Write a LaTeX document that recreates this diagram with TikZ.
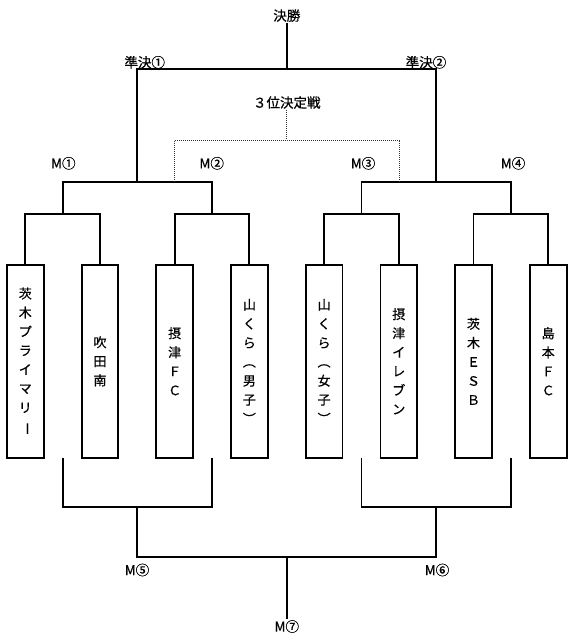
\documentclass[tikz,border=0pt]{standalone}
\usepackage{fontspec}
\setmainfont{Noto Sans CJK JP}[FakeBold=0.6]
\usepackage{graphicx}
\newcommand{\vchoon}{\rotatebox[origin=c]{-90}{ー}}
\begin{document}
\begin{tikzpicture}[x=1pt,y=-1pt,
  conn/.style={line width=1.9pt, line join=miter},
  team/.style={draw, line width=1.9pt, minimum width=36.7pt, minimum height=192.7pt,
    inner sep=0pt, align=center, font=\fontsize{13}{19}\selectfont},
  lbl/.style={font=\fontsize{13.5}{16}\selectfont, inner sep=1pt},
  dotline/.style={line width=1pt, dash pattern=on 1pt off 1pt, black!80}]
\path[fill=white] (0,0) rectangle (573,640);
% teams
\node[team] (t1) at (25.3,361.3) {茨\\木\\プ\\ラ\\イ\\マ\\リ\\\vchoon};
\node[team] (t2) at (100.0,361.3) {吹\\田\\南};
\node[team] (t3) at (174.7,361.3) {摂\\津\\Ｆ\\Ｃ};
\node[team] (t4) at (249.4,361.3) {山\\く\\ら\\︵\\男\\子\\︶};
\node[team] (t5) at (324.1,361.3) {山\\く\\ら\\︵\\女\\子\\︶};
\node[team] (t6) at (398.8,361.3) {摂\\津\\イ\\レ\\ブ\\ン};
\node[team] (t7) at (473.5,361.3) {茨\\木\\Ｅ\\Ｓ\\Ｂ};
\node[team] (t8) at (548.2,361.3) {島\\本\\Ｆ\\Ｃ};
% junctions (top)
\coordinate (m1) at (62.7,214.3);
\coordinate (m2) at (212.0,214.3);
\coordinate (m3) at (361.5,214.3);
\coordinate (m4) at (511.0,214.3);
\coordinate (s1) at (137.3,181.7);
\coordinate (s2) at (436.3,181.7);
\coordinate (f) at (286.8,69.3);
\draw[conn] (t1.north) |- (m1) -| (t2.north);
\draw[conn] (t3.north) |- (m2) -| (t4.north);
\draw[conn] (t5.north) |- (m3) -| (t6.north);
\draw[conn] (t7.north) |- (m4) -| (t8.north);
\draw[conn] (m1) |- (s1) -| (m2);
\draw[conn] (m3) |- (s2) -| (m4);
\draw[conn] (s1) |- (f) -| (s2);
% labels top
\node[lbl, anchor=south] (final) at (286.8,23) {決勝};
\draw[conn] (f) -- (final.south);
\node[lbl] (sf1) at (144.7,62.3) {準決①};
\node[lbl] (sf2) at (426.0,62.3) {準決②};
\node[lbl, anchor=south] (third) at (286.8,110) {３位決定戦};
\node[lbl] (lm1) at (63.3,163.3) {M①};
\node[lbl] (lm2) at (211.7,163.3) {M②};
\node[lbl] (lm3) at (363.0,163.3) {M③};
\node[lbl] (lm4) at (513.0,163.3) {M④};
% third place (dotted)
\coordinate (d) at (286.8,140);
\coordinate (dl) at (174.3,181.7);
\coordinate (dr) at (399.3,181.7);
\draw[dotline] (third.south) -- (d);
\draw[dotline] (dl) |- (d) -| (dr);
% bottom bracket
\coordinate (bl1) at (62.7,457.7);
\coordinate (bl2) at (212.0,457.7);
\coordinate (br1) at (361.5,457.7);
\coordinate (br2) at (511.0,457.7);
\coordinate (c5) at (137.3,506.7);
\coordinate (c6) at (436.3,506.7);
\coordinate (c7) at (286.8,557.3);
\draw[conn] (bl1) |- (c5) -| (bl2);
\draw[conn] (br1) |- (c6) -| (br2);
\draw[conn] (c5) |- (c7) -| (c6);
\node[lbl] (lm5) at (137.0,570.0) {M⑤};
\node[lbl] (lm6) at (437.0,570.0) {M⑥};
\node[lbl, anchor=north] (lm7) at (286.8,619) {M⑦};
\draw[conn] (c7) -- (lm7.north);
\end{tikzpicture}
\end{document}
